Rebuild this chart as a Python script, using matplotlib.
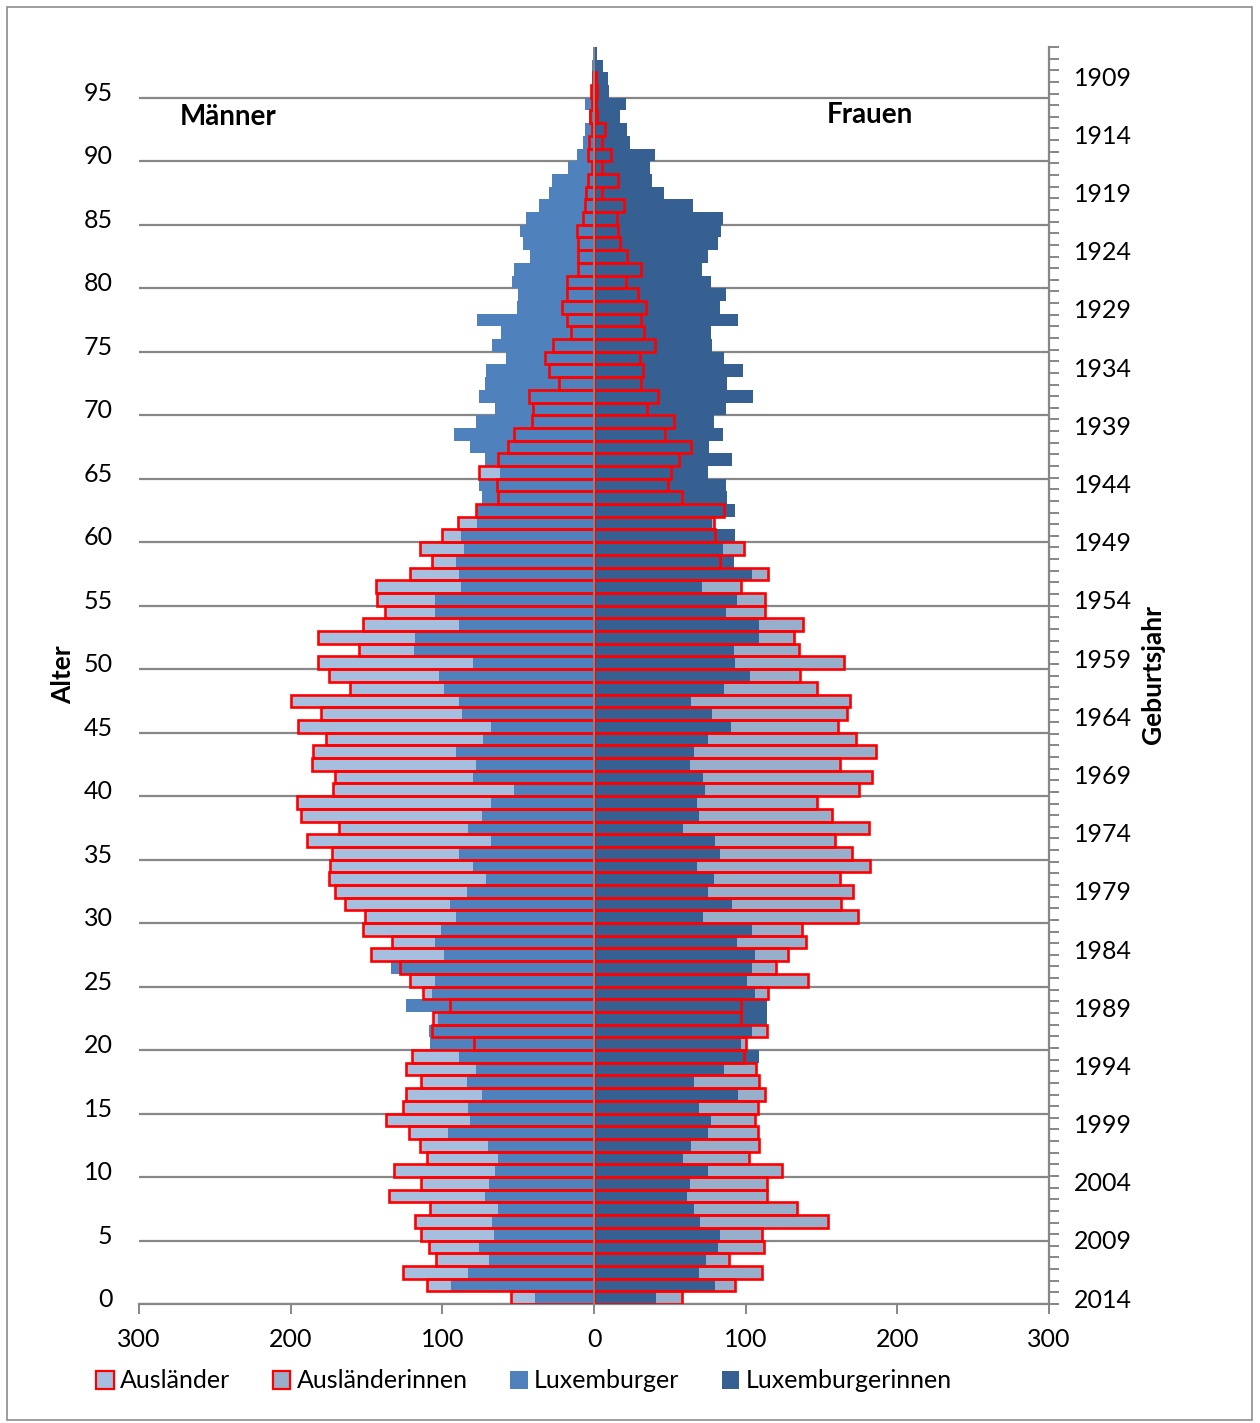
import numpy as np
import matplotlib
matplotlib.use("Agg")
import matplotlib.pyplot as plt
from matplotlib.patches import Patch, Rectangle

plt.rcParams['font.family'] = ['Lato', 'DejaVu Sans']

# Population by single year of age (0 .. 98)
ages = np.arange(0, 99)

luxemburger = [
    39, 94, 83, 69, 76, 66, 67, 63, 72, 69,
    65, 63, 70, 96, 82, 83, 74, 84, 78, 89,
    108, 109, 103, 124, 107, 105, 134, 99, 105, 101,
    91, 95, 84, 71, 80, 89, 68, 83, 74, 68,
    53, 80, 78, 91, 73, 68, 87, 89, 99, 102,
    80, 119, 118, 89, 105, 105, 88, 89, 91, 86,
    88, 77, 77, 74, 76, 62, 72, 82, 92, 78,
    65, 76, 72, 71, 58, 67, 61, 77, 51, 50,
    54, 53, 42, 47, 49, 45, 36, 30, 28, 17,
    11, 7, 6, 3, 6, 2, 1, 1, 0.5,
]
auslaender = [
    55, 110, 126, 104, 109, 114, 118, 108, 135, 114,
    132, 110, 115, 122, 137, 126, 124, 114, 124, 120,
    79, 107, 106, 95, 113, 121, 128, 147, 133, 152,
    151, 164, 171, 175, 174, 173, 189, 168, 193, 196,
    172, 171, 186, 185, 177, 195, 180, 200, 161, 175,
    182, 155, 182, 152, 138, 143, 144, 121, 107, 115,
    100, 90, 78, 63, 64, 76, 63, 57, 53, 41,
    40, 43, 23, 30, 32, 27, 15, 18, 21, 18,
    18, 10.5, 10.5, 10.5, 11, 7, 6, 5, 4, 1.3,
    4, 3, 1, 2.4, 1, 1.8, 0.5, 0, 0,
]
luxemburgerinnen = [
    41, 80, 69, 74, 82, 83, 70, 66, 61, 63,
    75, 59, 64, 75, 77, 69, 95, 66, 86, 109,
    97, 104, 114, 114, 106, 101, 104, 106, 94, 104,
    72, 91, 75, 79, 68, 83, 80, 59, 69, 68,
    73, 72, 63, 66, 75, 90, 78, 64, 86, 103,
    93, 92, 109, 109, 87, 94, 71, 104, 92, 85,
    93, 78, 93, 88, 87, 75, 91, 76, 85, 79,
    87, 105, 88, 98, 86, 78, 77, 95, 83, 87,
    77, 71, 75, 82, 84, 85, 65, 46, 38, 37,
    40, 24, 22, 17, 21, 10, 9, 6, 2,
]
auslaenderinnen = [
    58, 93, 111, 89, 112, 111, 154, 134, 114, 114,
    124, 102, 109, 108, 106, 108, 113, 109, 107, 99,
    100, 114, 97, 97, 115, 141, 120, 128, 140, 137,
    174, 163, 171, 162, 182, 170, 159, 181, 157, 147,
    175, 183, 162, 186, 173, 161, 167, 169, 147, 136,
    165, 135, 132, 138, 113, 113, 97, 115, 83, 99,
    80, 79, 86, 58, 49, 51, 56, 64, 47, 53,
    35, 42, 31, 32, 30, 40, 33, 31, 34, 29,
    21, 31, 22, 17, 16, 15, 20, 5.5, 16, 5,
    11, 5.5, 7, 2, 1.5, 2, 1, 0, 0,
]

age_labels = [str(a) for a in range(0, 100, 5)]
year_labels = [str(y) for y in range(1909, 2015, 5)]
x_ticks = [-300, -200, -100, 0, 100, 200, 300]

C_AUS_M = '#A7BFDE'
C_AUS_F = '#97AFCB'
C_LUX_M = '#4F81BD'
C_LUX_F = '#376092'
C_EDGE = '#FF0000'
C_GREY = '#878787'
FS = 18
FS_BOLD = 19

lux_m = np.array(luxemburger, dtype=float)
aus_m = np.array(auslaender, dtype=float)
lux_f = np.array(luxemburgerinnen, dtype=float)
aus_f = np.array(auslaenderinnen, dtype=float)

W, H = 1260, 1423
fig = plt.figure(figsize=(W / 100, H / 100), dpi=100)
fig.patches.append(Rectangle((7 / W, 3 / H), 1245 / W, 1413 / H,
                             transform=fig.transFigure, fill=False,
                             edgecolor='#8c8c8c', lw=1.2))

ax = fig.add_axes([139 / W, 119 / H, 910 / W, 1257 / H])

# foreigners (fill), nationals on top, then the red outlines of foreigners
ax.barh(ages, -aus_m, height=1, align='edge', color=C_AUS_M, lw=0, zorder=2)
ax.barh(ages, aus_f, height=1, align='edge', color=C_AUS_F, lw=0, zorder=2)
ax.barh(ages, -lux_m, height=1, align='edge', color=C_LUX_M, lw=0, zorder=3)
ax.barh(ages, lux_f, height=1, align='edge', color=C_LUX_F, lw=0, zorder=3)
mm = aus_m > 0
mf = aus_f > 0
ax.barh(ages[mm], -aus_m[mm], height=1, align='edge', fill=False,
        edgecolor=C_EDGE, lw=1.9, zorder=4)
ax.barh(ages[mf], aus_f[mf], height=1, align='edge', fill=False,
        edgecolor=C_EDGE, lw=1.9, zorder=4)

ax.axvline(0, color=C_GREY, lw=1.4, zorder=5)

ax.set_xlim(-300, 300)
ax.set_ylim(0, 99)

# gridlines on the class boundaries, labels in the middle of the bar
ax.set_yticks(np.arange(0, 100, 5))
ax.set_yticklabels([])
ax.set_yticks(np.arange(0, 100, 5) + 0.5, minor=True)
ax.set_yticklabels(age_labels, minor=True, fontsize=FS)
ax.tick_params(axis='y', which='both', length=0, pad=19)
ax.yaxis.grid(True, which='major', color=C_GREY, lw=1.6, zorder=1)
ax.set_axisbelow(True)

ax.set_xticks(x_ticks)
ax.set_xticklabels([str(abs(v)) for v in x_ticks], fontsize=FS)
ax.tick_params(axis='x', direction='out', length=7, width=1.4,
               color=C_GREY, pad=10)

for s in ('left', 'right', 'top'):
    ax.spines[s].set_visible(False)
ax.spines['bottom'].set_color(C_GREY)
ax.spines['bottom'].set_linewidth(1.6)

# birth-year axis on the right
ax2 = ax.twinx()
ax2.set_ylim(2014.5, 1906.5)
ax2.set_yticks([int(y) for y in year_labels])
ax2.set_yticklabels(year_labels, fontsize=FS)
ax2.set_yticks(np.arange(1906.5, 2015, 1), minor=True)
ax2.tick_params(axis='y', which='major', length=0, pad=18)
ax2.tick_params(axis='y', which='minor', direction='out', length=7,
                width=1.4, color=C_GREY)
for s in ('left', 'top', 'bottom'):
    ax2.spines[s].set_visible(False)
ax2.spines['right'].set_color(C_GREY)
ax2.spines['right'].set_linewidth(1.6)

fig.text(63 / W, 1 - 675 / H, 'Alter', rotation=90, ha='center',
         va='center', fontsize=FS_BOLD, fontweight='bold')
fig.text(1153 / W, 1 - 675 / H, 'Geburtsjahr', rotation=90, ha='center',
         va='center', fontsize=FS_BOLD, fontweight='bold')
fig.text(228 / W, 1 - 117 / H, 'Männer', ha='center', va='center',
         fontsize=FS_BOLD + 1, fontweight='bold')
fig.text(870 / W, 1 - 115 / H, 'Frauen', ha='center', va='center',
         fontsize=FS_BOLD + 1, fontweight='bold')

handles = [
    Patch(facecolor=C_AUS_M, edgecolor=C_EDGE, lw=1.6),
    Patch(facecolor=C_AUS_F, edgecolor=C_EDGE, lw=1.6),
    Patch(facecolor=C_LUX_M, edgecolor='none'),
    Patch(facecolor=C_LUX_F, edgecolor='none'),
]
names = ['Ausländer', 'Ausländerinnen', 'Luxemburger', 'Luxemburgerinnen']
fig.legend(handles, names, loc='center', bbox_to_anchor=(524 / W, 1 - 1381 / H),
           ncol=4, frameon=False, fontsize=FS, handlelength=0.7,
           handleheight=0.7, handletextpad=0.25, columnspacing=1.7)

fig.savefig('out.png', dpi=100)
